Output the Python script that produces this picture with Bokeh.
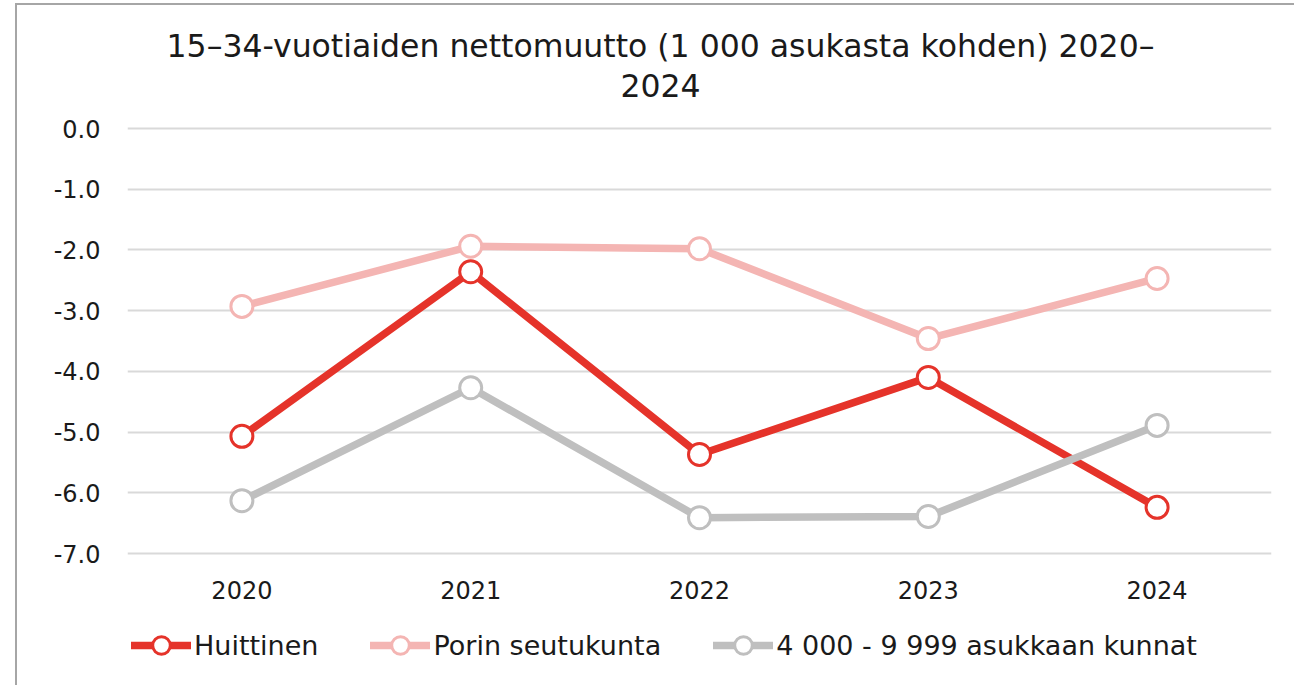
from bokeh.plotting import figure
from bokeh.models import Range1d, FactorRange, Legend, LegendItem, Label, FixedTicker, NumeralTickFormatter
from bokeh.embed import file_html
from bokeh.resources import INLINE

years = ["2020", "2021", "2022", "2023", "2024"]
huittinen = [-5.07, -2.36, -5.37, -4.10, -6.24]
pori = [-2.93, -1.94, -1.98, -3.46, -2.47]
kunnat = [-6.13, -4.27, -6.41, -6.39, -4.89]
names = ["Huittinen", "Porin seutukunta", "4 000 - 9 999 asukkaan kunnat"]
colors = ["#E5332A", "#F4B5B3", "#BFBFBF"]
y_ticks = [0, -1, -2, -3, -4, -5, -6, -7]
title_lines = ["15–34-vuotiaiden nettomuutto (1 000 asukasta kohden) 2020–", "2024"]

FONT = "DejaVu Sans"
TXT = "#1a1a1a"

# page pixel layout: frame spans y 8..680, x 127..1271; values 0..-7 occupy y 128..553
PX = 7 / 425
Y_MIN = -7 - (680 - 553) * PX
Y_MAX = (128 - 8) * PX
XPX = 5 / (1271 - 127)

p = figure(width=1279, height=682, x_range=FactorRange(*years, range_padding=0),
           y_range=Range1d(Y_MIN, Y_MAX), output_backend="svg", toolbar_location=None,
           min_border_left=110, min_border_right=25, min_border_bottom=7, min_border_top=3)
p.styles = {"margin-left": "15px", "margin-top": "3px",
            "border-left": "2px solid #A6A6A6", "border-top": "2px solid #A6A6A6"}

for line, py in zip(title_lines, [45, 85]):
    p.add_layout(Label(x=(660 - 127) * XPX, y=(128 - py) * PX, text=line,
                       text_align="center", text_baseline="middle", text_font=FONT,
                       text_font_size="31.5px", text_color=TXT))

p.xgrid.grid_line_color = None
p.ygrid.grid_line_color = "#D9D9D9"
p.ygrid.grid_line_width = 2
p.outline_line_color = None

p.yaxis.ticker = FixedTicker(ticks=y_ticks)
p.yaxis.formatter = NumeralTickFormatter(format="0.0")
p.xaxis.fixed_location = -7
for ax in (p.xaxis[0], p.yaxis[0]):
    ax.axis_line_color = None
    ax.major_tick_line_color = None
    ax.minor_tick_line_color = None
    ax.major_label_text_font = FONT
    ax.major_label_text_font_size = "24px"
    ax.major_label_text_color = TXT
p.yaxis.major_label_standoff = 21
p.xaxis.major_label_standoff = 21

items = []
for vals, name, col in zip([huittinen, pori, kunnat], names, colors):
    r1 = p.line(years, vals, line_color=col, line_width=7.5, line_join="round", line_cap="round")
    r2 = p.scatter(years, vals, size=22, fill_color="white", line_color=col, line_width=3)
    items.append(LegendItem(label=name, renderers=[r1, r2]))

legend = Legend(items=items, orientation="horizontal", location=(4, 13),
                label_text_font=FONT, label_text_font_size="27px", label_text_color=TXT,
                glyph_width=60, glyph_height=44, label_standoff=3, spacing=52,
                padding=0, margin=0, border_line_color=None, background_fill_alpha=0)
p.add_layout(legend, "center")

open("out.html", "w").write(file_html(p, INLINE))
